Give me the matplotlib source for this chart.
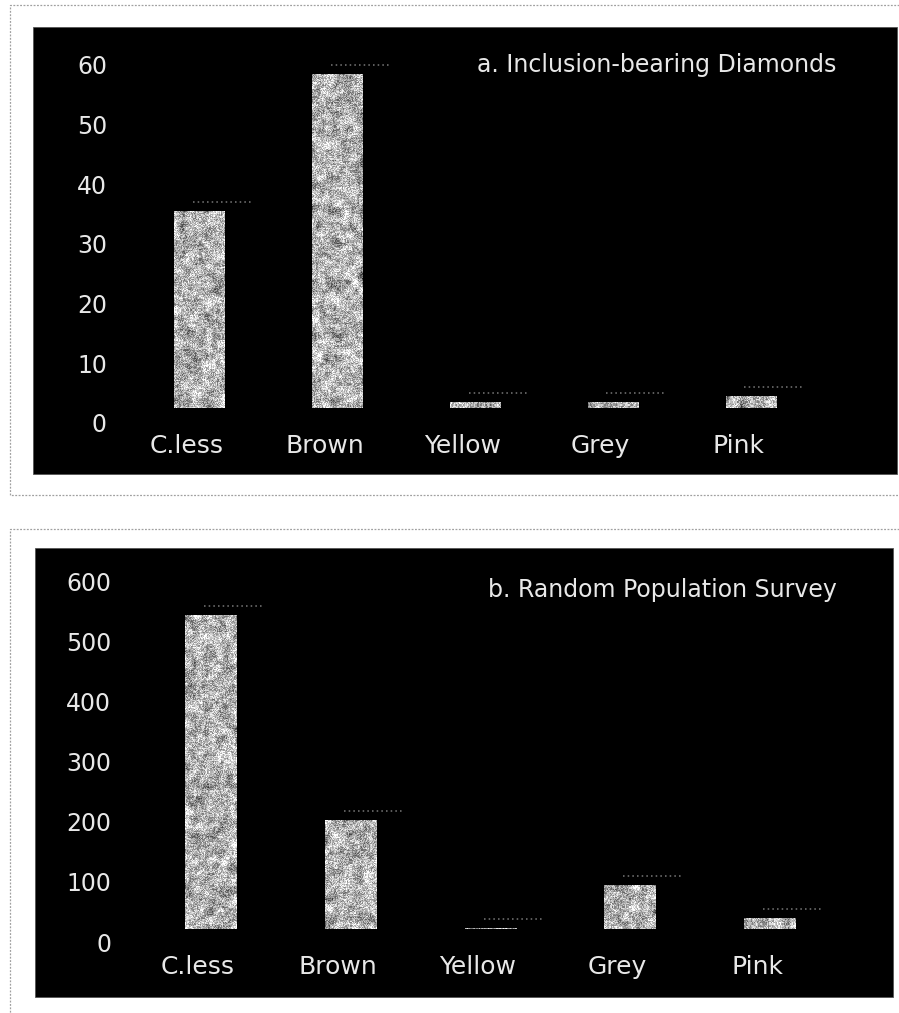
import numpy as np
import matplotlib
matplotlib.use("Agg")
import matplotlib.pyplot as plt
from matplotlib.lines import Line2D
from matplotlib.patches import Rectangle
from matplotlib.transforms import ScaledTranslation

# ---- data -------------------------------------------------------------
categories = ["C.less", "Brown", "Yellow", "Grey", "Pink"]
inclusion_counts = [33, 56, 1, 1, 2]
survey_counts = [522, 181, 2, 73, 18]
inclusion_ticks = [0, 10, 20, 30, 40, 50, 60]
survey_ticks = [0, 100, 200, 300, 400, 500, 600]
title_a = "a. Inclusion-bearing Diamonds"
title_b = "b. Random Population Survey"

W, H = 899, 1013
DPI = 100
fig = plt.figure(figsize=(W / DPI, H / DPI), dpi=DPI)
fig.patch.set_facecolor("white")

TEXT = "#e8e8e8"
rng = np.random.default_rng(7)


def fx(x):
    return x / W


def fy(y):
    return 1 - y / H


def frame_line(xs, ys):
    fig.add_artist(Line2D([fx(v) for v in xs], [fy(v) for v in ys],
                          transform=fig.transFigure, color="#a0a0a0",
                          lw=0.9, linestyle=(0, (1.5, 1.2))))


def black_panel(x0, y0, x1, y1):
    fig.add_artist(Rectangle((fx(x0), fy(y1)), fx(x1 - x0), (y1 - y0) / H,
                             transform=fig.transFigure, facecolor="black",
                             edgecolor="#555555", lw=0.6, zorder=0))


def box_blur(a, k):
    """Separable box blur with edge padding."""
    out = a
    for axis in (0, 1):
        pad = [(0, 0), (0, 0)]
        pad[axis] = (k, k)
        p = np.pad(out, pad, mode="reflect")
        c = np.cumsum(p, axis=axis)
        c = np.insert(c, 0, 0, axis=axis)
        n = out.shape[axis]
        hi = np.take(c, np.arange(2 * k + 1, 2 * k + 1 + n), axis=axis)
        lo = np.take(c, np.arange(0, n), axis=axis)
        out = (hi - lo) / (2 * k + 1)
    return out


def granite(ax, bar):
    """Fill a bar with a speckled granite-like grey texture."""
    x0, y0 = bar.get_x(), bar.get_y()
    w, h = bar.get_width(), bar.get_height()
    p0 = ax.transData.transform((x0, y0))
    p1 = ax.transData.transform((x0 + w, y0 + h))
    nx = max(4, int(abs(p1[0] - p0[0])))
    ny = max(4, int(abs(p1[1] - p0[1])))
    fine = rng.random((ny, nx))
    mottle = box_blur(rng.random((ny, nx)), 3)
    mottle = (mottle - mottle.mean()) / (mottle.std() + 1e-9)
    tex = 0.70 + 0.09 * mottle + 0.45 * (fine - 0.5)
    tex = np.clip(tex, 0.1, 1.0)
    im = ax.imshow(tex, cmap="gray", vmin=0, vmax=1, aspect="auto",
                   extent=(x0, x0 + w, y0, y0 + h), interpolation="nearest",
                   zorder=2)
    im.set_clip_path(bar)


def panel(rect_px, values, ticks, title, title_xy, ypad_pt, ydrop_px):
    left, top, right, bottom = rect_px
    ax = fig.add_axes([fx(left), fy(bottom), fx(right - left),
                       (bottom - top) / H])
    ax.set_facecolor("none")
    x = np.arange(len(categories))
    bars = ax.bar(x, values, width=0.37, color="#b5b5b5", zorder=1)
    ax.set_xlim(-0.5, len(categories) - 0.5)
    ax.set_ylim(0, ticks[-1])
    for b in bars:
        granite(ax, b)
    # faint speckled marks just above each bar
    up = ScaledTranslation(0, 9 / DPI, fig.dpi_scale_trans)
    for xi, v in zip(x, values):
        ax.plot([xi - 0.05, xi + 0.38], [v, v], color="#5e5e5e", lw=1.4,
                linestyle=(0, (0.8, 1.6)), transform=ax.transData + up,
                zorder=3, clip_on=False)
    for s in ax.spines.values():
        s.set_visible(False)
    ax.set_yticks(ticks)
    ax.set_yticklabels([str(t) for t in ticks])
    ax.set_xticks(x)
    ax.set_xticklabels(categories)
    ax.tick_params(axis="y", length=0, pad=ypad_pt, labelsize=17,
                   labelcolor=TEXT)
    ax.tick_params(axis="x", length=0, pad=19, labelsize=18,
                   labelcolor=TEXT)
    down = ScaledTranslation(0, -ydrop_px / DPI, fig.dpi_scale_trans)
    for lab in ax.get_yticklabels():
        lab.set_transform(lab.get_transform() + down)
    shift = ScaledTranslation(-13 / DPI, 0, fig.dpi_scale_trans)
    for lab in ax.get_xticklabels():
        lab.set_transform(lab.get_transform() + shift)
    fig.text(fx(title_xy[0]), fy(title_xy[1]), title, ha="right",
             va="center", fontsize=17, color=TEXT)
    return ax


# outer dotted frames
frame_line([899, 10, 10, 899], [5, 5, 495, 495])
frame_line([899, 10, 10], [529, 529, 1013])

# black backgrounds
black_panel(33, 27, 897, 474)
black_panel(35, 548, 893, 997)

panel((131, 50, 820, 408), inclusion_counts, inclusion_ticks, title_a,
      (836, 65), 17.3, 15)
panel((141, 568, 840, 929), survey_counts, survey_ticks, title_b,
      (837, 590), 21.6, 13)

fig.savefig("out.png", dpi=DPI, facecolor=fig.get_facecolor())
